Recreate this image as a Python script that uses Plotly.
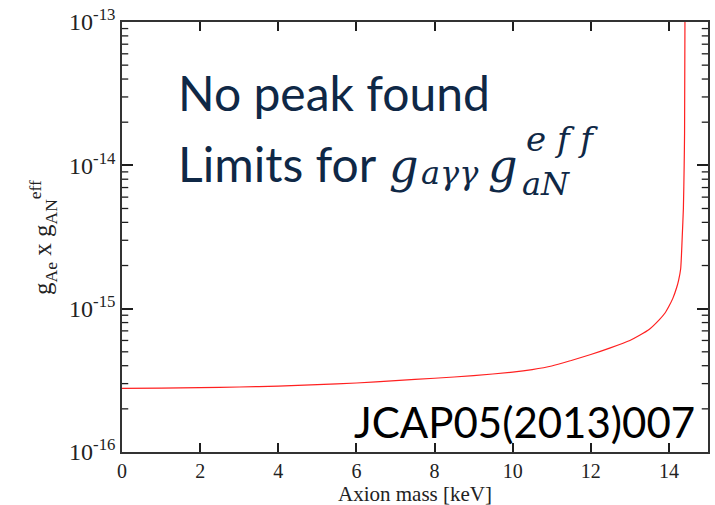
import plotly.graph_objects as go

# Axion mass (keV) and the corresponding upper limit on g_Ae x g_AN^eff
mass_kev = [0, 1, 2, 3, 4, 5, 6, 7, 8, 9, 10, 10.5, 11, 11.5, 12, 12.5, 13,
            13.25, 13.5, 13.75, 13.9, 14.0, 14.1, 14.2, 14.25, 14.3, 14.32,
            14.34, 14.37, 14.39, 14.40, 14.41]
coupling_limit = [2.78e-16, 2.79e-16, 2.81e-16, 2.84e-16, 2.88e-16, 2.95e-16,
                  3.03e-16, 3.15e-16, 3.27e-16, 3.41e-16, 3.61e-16, 3.76e-16,
                  3.98e-16, 4.35e-16, 4.79e-16, 5.33e-16, 6.00e-16, 6.52e-16,
                  7.19e-16, 8.36e-16, 9.33e-16, 1.04e-15, 1.18e-15, 1.41e-15,
                  1.59e-15, 1.89e-15, 2.34e-15, 3.16e-15, 5.01e-15, 1.0e-14,
                  1.66e-14, 1.0e-13]

x_ticks = [0, 2, 4, 6, 8, 10, 12, 14]
y_tick_vals = [1e-16, 1e-15, 1e-14, 1e-13]
y_tick_text = ["10<sup>-16</sup>", "10<sup>-15</sup>", "10<sup>-14</sup>", "10<sup>-13</sup>"]

# minor ticks at 2..9 within each decade
y_minor_vals = [m * 10.0 ** e for e in (-16, -15, -14) for m in range(2, 10)]

X_MIN, X_MAX = 0, 15
MINOR_LEN = 0.16  # keV, about 6 px

SERIF = "Liberation Serif, Times New Roman, serif"
MATHFONT = "DejaVu Serif, serif"
SANS = "Lato, Open Sans, sans-serif"
NAVY = "#0f2846"
AXIS = "#1e1e1e"
LABEL = "#222222"

fig = go.Figure()
fig.add_trace(go.Scatter(
    x=mass_kev, y=coupling_limit, mode="lines",
    line=dict(color="#ff2020", width=1.2, shape="spline", smoothing=0.6),
    showlegend=False, hoverinfo="skip",
))

# minor log ticks drawn on the left and right frame edges
mx, my = [], []
for v in y_minor_vals:
    mx += [X_MIN, X_MIN + MINOR_LEN, None, X_MAX - MINOR_LEN, X_MAX, None]
    my += [v, v, None, v, v, None]
fig.add_trace(go.Scatter(
    x=mx, y=my, mode="lines", line=dict(color=AXIS, width=1.3),
    showlegend=False, hoverinfo="skip", cliponaxis=False,
))

fig.update_layout(
    width=715, height=505,
    margin=dict(l=122, r=5, t=20, b=53),
    paper_bgcolor="white", plot_bgcolor="white",
    font=dict(family=SERIF, color=LABEL),
    xaxis=dict(
        range=[X_MIN, X_MAX], tickvals=x_ticks, ticks="inside", ticklen=9,
        tickwidth=1.5, tickcolor=AXIS, showline=True, linecolor="#333333",
        linewidth=1.5, mirror="ticks", showgrid=False, zeroline=False,
        tickfont=dict(family=SERIF, size=20, color=LABEL),
    ),
    yaxis=dict(
        type="log", range=[-16, -13], tickvals=y_tick_vals, ticktext=y_tick_text,
        ticks="inside", ticklen=11, tickwidth=1.5, tickcolor=AXIS,
        showline=True, linecolor="#333333", linewidth=1.5, mirror="ticks",
        showgrid=False, zeroline=False,
        tickfont=dict(family=SERIF, size=24, color=LABEL),
    ),
)

MATH = dict(xref="paper", yref="paper", xanchor="left", yanchor="middle",
            showarrow=False)

annotations = [
    # axis titles
    dict(text="Axion mass [keV]", x=0.5, y=-0.098, xref="paper", yref="paper",
         xanchor="center", yanchor="middle", showarrow=False,
         font=dict(family=SERIF, size=21, color=LABEL)),
    dict(text="g<sub>Ae</sub> x g<sub>AN</sub><sup>eff</sup>", x=-0.135, y=0.5,
         xref="paper", yref="paper", textangle=-90, xanchor="center",
         yanchor="middle", showarrow=False,
         font=dict(family=SERIF, size=25, color=LABEL)),
    # slide-style text
    dict(text="No peak found", x=0.093, y=0.835, xref="paper", yref="paper",
         xanchor="left", yanchor="middle", showarrow=False,
         font=dict(family=SANS, size=48, color=NAVY)),
    dict(text="Limits for", x=0.093, y=0.67, xref="paper", yref="paper",
         xanchor="left", yanchor="middle", showarrow=False,
         font=dict(family=SANS, size=48, color=NAVY)),
    # g_{aγγ} g_{aN}^{eff}
    dict(text="<i>g</i>", x=0.452, y=0.664,
         font=dict(family=MATHFONT, size=46, color=NAVY), **MATH),
    dict(text="<i>aγγ</i>", x=0.506, y=0.650,
         font=dict(family=MATHFONT, size=32, color=NAVY), **MATH),
    dict(text="<i>g</i>", x=0.622, y=0.664,
         font=dict(family=MATHFONT, size=46, color=NAVY), **MATH),
    dict(text="<i>aN</i>", x=0.680, y=0.623,
         font=dict(family=MATHFONT, size=32, color=NAVY), **MATH),
    dict(text="<i>e f f</i>", x=0.686, y=0.728,
         font=dict(family=MATHFONT, size=34, color=NAVY), **MATH),
    dict(text="JCAP05(2013)007", x=0.982, y=0.07, xref="paper", yref="paper",
         xanchor="right", yanchor="middle", showarrow=False,
         font=dict(family=SANS, size=42, color="black")),
]
fig.update_layout(annotations=annotations)

fig.write_html("out.html")
